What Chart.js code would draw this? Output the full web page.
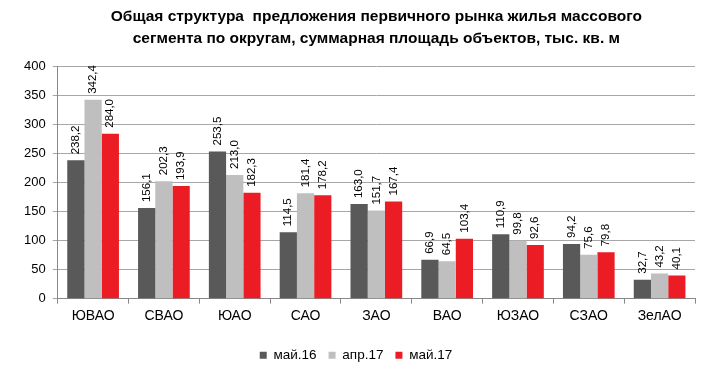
<!DOCTYPE html>
<html>
<head>
<meta charset="utf-8">
<script src="https://cdn.jsdelivr.net/npm/chart.js@4/dist/chart.umd.min.js"></script>
<style>
	html, body { margin: 0; padding: 0; background: #fff; }
	#wrap { width: 708px; height: 376px; }
</style>
</head>
<body>
<div id="wrap"><canvas id="chart-bars"></canvas></div>
<script>
const CATEGORIES = ["ЮВАО", "СВАО", "ЮАО", "САО", "ЗАО", "ВАО", "ЮЗАО", "СЗАО", "ЗелАО"];
const SERIES_NAMES = ["май.16", "апр.17", "май.17"];
const MAY16 = [238.2, 156.1, 253.5, 114.5, 163.0, 66.9, 110.9, 94.2, 32.7];
const APR17 = [342.4, 202.3, 213.0, 181.4, 151.7, 64.5, 99.8, 75.6, 43.2];
const MAY17 = [284.0, 193.9, 182.3, 178.2, 167.4, 103.4, 92.6, 79.8, 40.1];
const Y_TICKS = [0, 50, 100, 150, 200, 250, 300, 350, 400];

const COLORS = ["#595959", "#bfbfbf", "#ec1c24"];
const FONT = "'Liberation Sans', Arial, sans-serif";

// value labels, rotated, above each bar
const barLabels = {
	id: "barLabels",
	afterDatasetsDraw(chart) {
		const ctx = chart.ctx;
		ctx.save();
		ctx.font = "11.5px " + FONT;
		ctx.fillStyle = "#000";
		ctx.textAlign = "left";
		ctx.textBaseline = "middle";
		chart.data.datasets.forEach((ds, i) => {
			chart.getDatasetMeta(i).data.forEach((bar, j) => {
				const txt = ds.data[j].toFixed(1).replace(".", ",");
				ctx.save();
				ctx.translate(bar.x, bar.y - 6);
				ctx.rotate(-Math.PI / 2);
				ctx.fillText(txt, 0, 0);
				ctx.restore();
			});
		});
		ctx.restore();
	},
};

const DATA = {
	labels: CATEGORIES,
	datasets: [MAY16, APR17, MAY17].map((d, i) => ({
		label: SERIES_NAMES[i],
		data: d,
		backgroundColor: COLORS[i],
		borderWidth: 0,
		barPercentage: 1,
		categoryPercentage: 0.73,
	})),
};

const CONFIG = {
	type: "bar",
	data: DATA,
	options: {
		responsive: true,
		maintainAspectRatio: false,
		animation: false,
		layout: { padding: { left: 17, right: 13, top: 4, bottom: 4 } },
		scales: {
			x: {
				grid: {
					display: true,
					drawOnChartArea: false,
					drawTicks: true,
					tickLength: 5,
					color: "#888",
				},
				border: { color: "#888" },
				ticks: { color: "#000", font: { family: FONT, size: 14 }, padding: 4 },
			},
			y: {
				min: 0,
				max: 400,
				afterBuildTicks: (axis) => {
					axis.ticks = Y_TICKS.map((v) => ({ value: v }));
				},
				grid: { color: "#a6a6a6", tickLength: 5 },
				border: { color: "#888" },
				ticks: { color: "#000", font: { family: FONT, size: 13 }, padding: 7 },
			},
		},
		plugins: {
			title: {
				display: true,
				fullSize: false,
				text: [
					"Общая структура  предложения первичного рынка жилья массового",
					"сегмента по округам, суммарная площадь объектов, тыс. кв. м",
				],
				color: "#000",
				font: { family: FONT, size: 15.5, weight: "bold", lineHeight: 1.4 },
				padding: { top: 2, bottom: 17 },
			},
			legend: {
				position: "bottom",
				title: {
					// spacer between axis labels and legend items
					display: true,
					text: " ",
					font: { size: 1, lineHeight: 1 },
					padding: { top: 4, bottom: 3 },
				},
				labels: {
					color: "#000",
					boxWidth: 7,
					boxHeight: 7,
					padding: 12,
					font: { family: FONT, size: 13.5 },
				},
			},
			tooltip: { enabled: false },
		},
	},
	plugins: [barLabels],
};

new Chart(document.getElementById("chart-bars"), CONFIG);
</script>
</body>
</html>
